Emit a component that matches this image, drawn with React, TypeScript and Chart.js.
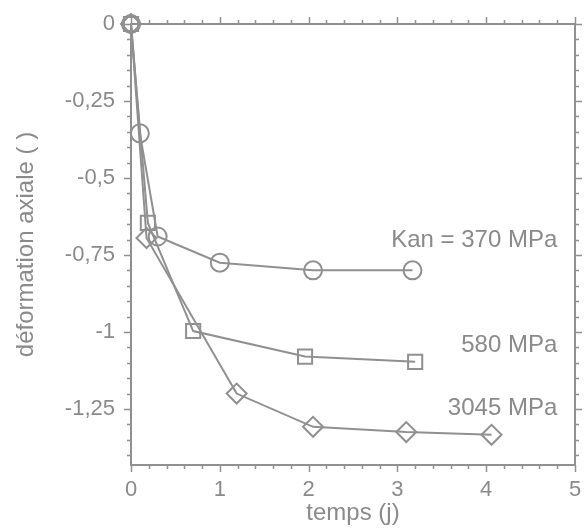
import React, { useEffect, useRef } from "react";
import { Chart, registerables } from "chart.js";

Chart.register(...registerables);

// Series data (temps in days, axial deformation)
const kan370X = [0, 0.1, 0.3, 1.0, 2.05, 3.17];
const kan370Y = [0, -0.355, -0.69, -0.775, -0.8, -0.8];

const kan580X = [0, 0.19, 0.7, 1.96, 3.2];
const kan580Y = [0, -0.646, -0.997, -1.08, -1.097];

const kan3045X = [0, 0.175, 1.19, 2.05, 3.1, 4.06];
const kan3045Y = [0, -0.695, -1.2, -1.308, -1.325, -1.334];

const xTicks = [0, 1, 2, 3, 4, 5];
const yTicks = [0, -0.25, -0.5, -0.75, -1, -1.25];

const seriesLabels = ["Kan = 370 MPa", "580 MPa", "3045 MPa"];
const labelX = [4.8, 4.8, 4.8];
const labelY = [-0.695, -1.036, -1.243];

const FONT = "'Liberation Sans', Arial, Helvetica, sans-serif";
const TEXT = "#8a8a8a";
const LINE = "#909090";

const toPts = (xs: number[], ys: number[]) => xs.map((x, i) => ({ x, y: ys[i] }));

const framePlugin = {
  id: "frame",
  afterDatasetsDraw(chart: any) {
    const { ctx, chartArea: a, scales } = chart;
    const xs = scales.x;
    const ys = scales.y;
    ctx.save();
    ctx.strokeStyle = LINE;
    ctx.lineWidth = 2;
    ctx.strokeRect(a.left, a.top, a.right - a.left, a.bottom - a.top);
    ctx.lineWidth = 1.5;
    ctx.beginPath();
    for (let i = 0; i <= 25; i++) {
      const v = i * 0.2;
      const px = Math.round(xs.getPixelForValue(v)) + 0.5;
      const len = i % 5 === 0 ? 7 : 4;
      ctx.moveTo(px, a.bottom);
      ctx.lineTo(px, a.bottom + len);
      ctx.moveTo(px, a.top);
      ctx.lineTo(px, a.top - len);
    }
    for (let i = 0; i <= 28; i++) {
      const v = -i * 0.05;
      const py = Math.round(ys.getPixelForValue(v)) + 0.5;
      const len = i % 5 === 0 ? 7 : 4;
      ctx.moveTo(a.left, py);
      ctx.lineTo(a.left - len, py);
      ctx.moveTo(a.right, py);
      ctx.lineTo(a.right + len, py);
    }
    ctx.stroke();

    ctx.fillStyle = TEXT;
    ctx.font = `24px ${FONT}`;
    ctx.textAlign = "right";
    ctx.textBaseline = "alphabetic";
    seriesLabels.forEach((t, i) => {
      const px = xs.getPixelForValue(labelX[i]);
      const py = ys.getPixelForValue(labelY[i]) + 8.6;
      ctx.fillText(t, px, py);
    });
    ctx.restore();
  },
};

export default function App() {
  const ref = useRef<HTMLCanvasElement | null>(null);

  useEffect(() => {
    if (!ref.current) return;
    const ds = (label: string, xs: number[], ys: number[], style: string, r: number) => ({
      label,
      data: toPts(xs, ys),
      showLine: true,
      clip: false,
      borderColor: LINE,
      borderWidth: 2,
      pointStyle: style,
      pointRadius: r,
      pointBorderColor: LINE,
      pointBorderWidth: 2,
      pointBackgroundColor: "rgba(0,0,0,0)",
      tension: 0,
    });
    const chart = new Chart(ref.current, {
      type: "scatter",
      data: {
        datasets: [
          ds("Kan = 370 MPa", kan370X, kan370Y, "circle", 9),
          ds("580 MPa", kan580X, kan580Y, "rect", 10),
          ds("3045 MPa", kan3045X, kan3045Y, "rectRot", 10),
        ],
      },
      options: {
        responsive: false,
        animation: false,
        layout: { padding: { top: 24, right: 12, left: 0, bottom: 0 } },
        plugins: { legend: { display: false }, tooltip: { enabled: false } },
        scales: {
          x: {
            type: "linear",
            min: 0,
            max: 5,
            afterFit: (s: any) => {
              s.height = 66;
            },
            afterBuildTicks: (s: any) => {
              s.ticks = xTicks.map((v) => ({ value: v }));
            },
            grid: { display: false },
            border: { display: false },
            ticks: {
              color: TEXT,
              font: { family: FONT, size: 22 },
              padding: 4,
              maxRotation: 0,
              callback: (v: any) => String(v),
            },
            title: {
              display: true,
              text: "temps (j)",
              color: TEXT,
              font: { family: FONT, size: 24 },
              padding: { top: 0, bottom: 3 },
            },
          },
          y: {
            type: "linear",
            min: -1.432,
            max: 0,
            afterFit: (s: any) => {
              s.width = 131;
            },
            afterBuildTicks: (s: any) => {
              s.ticks = yTicks.map((v) => ({ value: v }));
            },
            grid: { display: false },
            border: { display: false },
            ticks: {
              color: TEXT,
              font: { family: FONT, size: 22 },
              padding: 8,
              callback: (v: any) => String(v).replace(".", ","),
            },
            title: {
              display: true,
              text: "déformation axiale ( )",
              color: TEXT,
              font: { family: FONT, size: 24 },
              padding: { top: 12, bottom: 0 },
            },
          },
        },
      },
      plugins: [framePlugin],
    });
    return () => chart.destroy();
  }, []);

  return (
    <div style={{ position: "absolute", left: 0, top: 0, width: 587, height: 531, background: "#fff" }}>
      <canvas ref={ref} width={587} height={531} style={{ display: "block" }} />
    </div>
  );
}
